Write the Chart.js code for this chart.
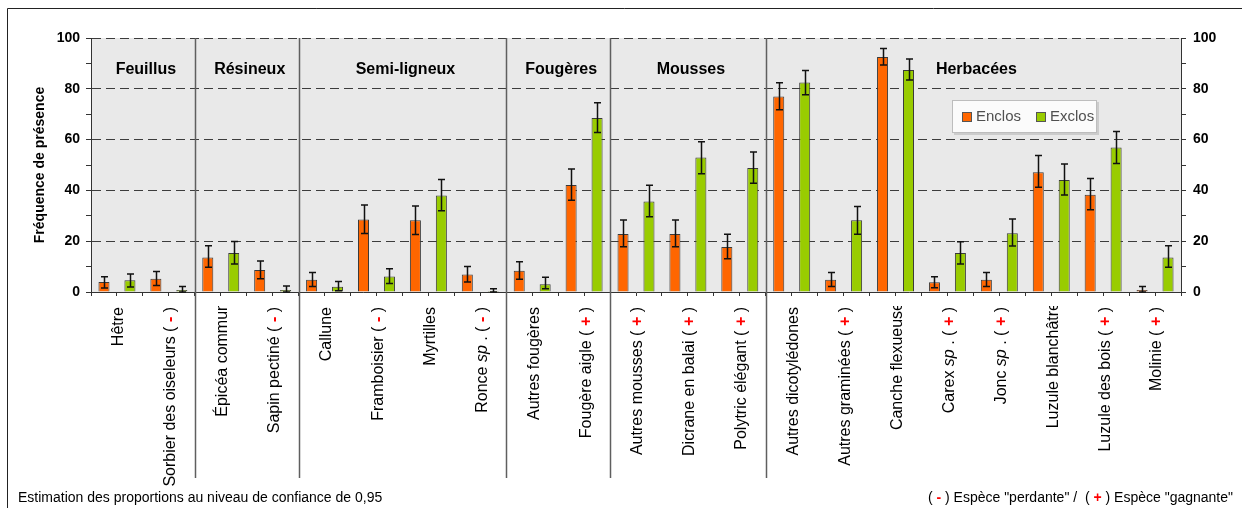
<!DOCTYPE html>
<html lang="fr">
<head>
<meta charset="utf-8">
<title>Fréquence de présence des espèces — enclos et exclos</title>
<script src="https://cdn.jsdelivr.net/npm/chart.js@4.4.1/dist/chart.umd.min.js"></script>
<style>
  html, body { margin: 0; padding: 0; background: #ffffff; }
  #wrap { width: 1242px; height: 508px; position: relative; }
  canvas { display: block; }
</style>
</head>
<body>
<div id="wrap"><canvas id="chart" width="1242" height="508"></canvas></div>
<script>
// ---- Data ---------------------------------------------------------------
// Species, in drawing order. Text between asterisks is set in italics.
const species = [
  'Hêtre', 'Sorbier des oiseleurs',
  'Épicéa commun', 'Sapin pectiné',
  'Callune', 'Framboisier', 'Myrtilles', 'Ronce *sp* .',
  'Autres fougères', 'Fougère aigle',
  'Autres mousses', 'Dicrane en balai', 'Polytric élégant',
  'Autres dicotylédones', 'Autres graminées', 'Canche flexueuse', 'Carex *sp* .',
  'Jonc *sp* .', 'Luzule blanchâtre', 'Luzule des bois', 'Molinie'
];
// "-" = espèce perdante, "+" = espèce gagnante, "" = neither
const status = [
  '', '-',
  '', '-',
  '', '-', '', '-',
  '', '+',
  '+', '+', '+',
  '', '+', '', '+',
  '+', '', '+', '+'
];
// Labels that run past the top of the label band and get cut there
const cutLabels = ['Épicéa commun', 'Canche flexueuse', 'Luzule blanchâtre'];

const groupNames = ['Feuillus', 'Résineux', 'Semi-ligneux', 'Fougères', 'Mousses', 'Herbacées'];
const groupSizes = [2, 2, 4, 2, 3, 8];

const seriesNames = ['Enclos', 'Exclos'];

// Frequency of presence (%) with 95 % confidence bounds
const enclos     = [3.9, 5.2, 13.6, 8.7, 4.8, 28.5, 28.2, 6.9, 8.4, 42.1, 22.8, 22.8, 17.7, 77.0, 4.8, 92.5, 3.8, 4.8, 47.1, 38.3, 0.8];
const enclosLow  = [1.6, 2.6, 9.7, 5.2, 2.2, 23.0, 22.6, 3.9, 5.0, 36.1, 17.8, 17.8, 13.1, 71.8, 2.2, 89.4, 1.7, 2.2, 41.2, 32.4, 0.0];
const enclosHigh = [6.0, 8.1, 18.2, 12.2, 7.7, 34.3, 33.9, 10.0, 11.9, 48.4, 28.3, 28.3, 22.7, 82.4, 7.7, 95.9, 6.0, 7.7, 53.7, 44.7, 2.2];

const exclos     = [4.6, 0.8, 15.4, 0.8, 2.1, 6.1, 38.0, 0.4, 3.1, 68.5, 35.6, 53.0, 48.8, 82.5, 28.2, 87.4, 15.4, 23.1, 44.1, 56.9, 13.6];
const exclosLow  = [2.0, 0.0, 11.0, 0.0, 0.5, 3.3, 32.0, 0.0, 1.3, 62.8, 29.6, 46.6, 42.8, 77.7, 22.7, 83.5, 11.0, 18.1, 38.2, 50.6, 9.7];
const exclosHigh = [7.1, 2.2, 19.9, 2.4, 4.1, 9.2, 44.3, 1.3, 5.8, 74.5, 42.0, 59.2, 55.1, 87.2, 33.7, 91.7, 19.8, 28.7, 50.4, 63.2, 18.2];

const yTicks = [0, 20, 40, 60, 80, 100];

const footLeft = 'Estimation des proportions au niveau de confiance de 0,95';
const footRight = [
  { text: '( ' }, { text: '-', red: true }, { text: ' ) Espèce "perdante" /  ( ' },
  { text: '+', red: true }, { text: ' ) Espèce "gagnante"' }
];

// ---- Styling --------------------------------------------------------------
const FONT = "'Liberation Sans', Arial, Helvetica, sans-serif";
const ORANGE = '#ff6600';
const GREEN = '#99cc00';
const PLOT_BG = '#e9e9e9';

function fontStr(size, seg) {
  return (seg && seg.italic ? 'italic ' : '') + (seg && (seg.bold || seg.red) ? 'bold ' : '') + size + 'px ' + FONT;
}

function speciesSegments(name, st) {
  const segs = [];
  name.split('*').forEach((part, k) => { if (part) segs.push({ text: part, italic: k % 2 === 1 }); });
  if (st) {
    segs.push({ text: ' ( ' });
    segs.push({ text: st, red: true });
    segs.push({ text: ' )' });
  }
  return segs;
}

function drawSegments(ctx, segs, x, y, size) {
  let cx = x;
  segs.forEach(s => {
    ctx.font = fontStr(size, s);
    ctx.fillStyle = s.red ? '#ff0000' : '#000000';
    ctx.fillText(s.text, cx, y);
    cx += ctx.measureText(s.text).width;
  });
}

function segmentsWidth(ctx, segs, size) {
  let w = 0;
  segs.forEach(s => { ctx.font = fontStr(size, s); w += ctx.measureText(s.text).width; });
  return w;
}

// ---- Plugins --------------------------------------------------------------
const backgroundPlugin = {
  id: 'background',
  beforeDraw(chart) {
    const { ctx, chartArea: a } = chart;
    ctx.save();
    ctx.fillStyle = '#ffffff';
    ctx.fillRect(0, 0, chart.width, chart.height);
    ctx.fillStyle = PLOT_BG;
    ctx.fillRect(a.left, a.top, a.right - a.left, a.bottom - a.top);
    ctx.restore();
  }
};

const errorBarPlugin = {
  id: 'errorBars',
  afterDatasetsDraw(chart) {
    const { ctx } = chart;
    const y = chart.scales.y;
    const bounds = [[enclosLow, enclosHigh], [exclosLow, exclosHigh]];
    ctx.save();
    ctx.strokeStyle = '#111111';
    ctx.lineWidth = 1.5;
    chart.data.datasets.forEach((ds, d) => {
      const meta = chart.getDatasetMeta(d);
      meta.data.forEach((bar, i) => {
        const x = Math.round(bar.x) + 0.5;
        const yl = y.getPixelForValue(bounds[d][0][i]);
        const yh = y.getPixelForValue(bounds[d][1][i]);
        ctx.beginPath();
        ctx.moveTo(x, yl); ctx.lineTo(x, yh);
        ctx.moveTo(x - 3.5, yh); ctx.lineTo(x + 3.5, yh);
        ctx.moveTo(x - 3.5, yl); ctx.lineTo(x + 3.5, yl);
        ctx.stroke();
      });
    });
    ctx.restore();
  }
};

const groupsPlugin = {
  id: 'groups',
  afterDraw(chart) {
    const { ctx, chartArea: a } = chart;
    const x = chart.scales.x;
    const labelTop = a.bottom + 15;
    ctx.save();

    // group separators and group titles
    let start = 0;
    groupSizes.forEach((n, g) => {
      const end = start + n;
      const x0 = x.getPixelForValue(start - 0.5);
      const x1 = x.getPixelForValue(end - 0.5);
      if (end < species.length) {
        ctx.strokeStyle = '#5f5f5f';
        ctx.lineWidth = 1.5;
        ctx.beginPath();
        ctx.moveTo(Math.round(x1) + 0.5, a.top);
        ctx.lineTo(Math.round(x1) + 0.5, 478);
        ctx.stroke();
      }
      ctx.font = 'bold 16px ' + FONT;
      ctx.fillStyle = '#000000';
      ctx.textAlign = 'center';
      ctx.textBaseline = 'middle';
      ctx.fillText(groupNames[g], (x0 + x1) / 2 + 3, 70);
      start = end;
    });

    // rotated species labels
    ctx.textAlign = 'left';
    ctx.textBaseline = 'middle';
    species.forEach((name, i) => {
      const segs = speciesSegments(name, status[i]);
      const w = segmentsWidth(ctx, segs, 16);
      const px = x.getPixelForValue(i) + 2;
      const cut = cutLabels.includes(name);
      ctx.save();
      if (cut) {
        ctx.beginPath();
        ctx.rect(px - 20, labelTop - 1, 40, 300);
        ctx.clip();
      }
      ctx.translate(px, labelTop);
      ctx.rotate(-Math.PI / 2);
      drawSegments(ctx, segs, -w + (cut ? 5 : 0), 0, 16);
      ctx.restore();
    });

    // footnotes
    ctx.textBaseline = 'middle';
    ctx.textAlign = 'left';
    ctx.font = '14px ' + FONT;
    ctx.fillStyle = '#000000';
    ctx.fillText(footLeft, 18, 498);
    const fw = segmentsWidth(ctx, footRight, 14);
    drawSegments(ctx, footRight, 1233 - fw, 498, 14);

    // outer frame
    ctx.strokeStyle = '#222222';
    ctx.lineWidth = 1;
    ctx.beginPath();
    ctx.moveTo(7.5, chart.height);
    ctx.lineTo(7.5, 8.5);
    ctx.lineTo(chart.width, 8.5);
    ctx.stroke();
    ctx.restore();
  }
};

const legendBoxPlugin = {
  id: 'legendBox',
  afterDraw(chart) {
    const { ctx } = chart;
    const bx = 952, by = 100, bw = 145, bh = 33;
    ctx.save();
    ctx.fillStyle = 'rgba(0,0,0,0.12)';
    ctx.fillRect(bx + 2, by + 2, bw, bh);
    ctx.fillStyle = '#fbfbfb';
    ctx.fillRect(bx, by, bw, bh);
    ctx.strokeStyle = '#bdbdbd';
    ctx.lineWidth = 1;
    ctx.strokeRect(bx + 0.5, by + 0.5, bw - 1, bh - 1);
    const items = [{ x: 962 }, { x: 1036 }];
    ctx.font = '15px ' + FONT;
    ctx.textBaseline = 'middle';
    ctx.textAlign = 'left';
    chart.data.datasets.forEach((ds, d) => {
      const ix = items[d].x;
      ctx.fillStyle = ds.backgroundColor;
      ctx.fillRect(ix, 112, 10, 10);
      ctx.strokeStyle = '#555555';
      ctx.strokeRect(ix + 0.5, 112.5, 9, 9);
      ctx.fillStyle = '#505050';
      ctx.fillText(ds.label, ix + 14, 117);
    });
    ctx.restore();
  }
};

// ---- Chart ----------------------------------------------------------------
Chart.defaults.font.family = FONT;
Chart.defaults.color = '#000000';

const yTickCallback = v => (yTicks.includes(v) ? String(v) : '');

new Chart(document.getElementById('chart'), {
  type: 'bar',
  data: {
    labels: species,
    datasets: [
      { label: seriesNames[0], data: enclos, backgroundColor: ORANGE, borderColor: '#3a3a3a', borderWidth: 1, xAxisID: 'x', yAxisID: 'y' },
      { label: seriesNames[1], data: exclos, backgroundColor: GREEN, borderColor: '#3a3a3a', borderWidth: 1, xAxisID: 'x', yAxisID: 'y' }
    ]
  },
  options: {
    responsive: false,
    animation: false,
    devicePixelRatio: 1,
    categoryPercentage: 1.0,
    barPercentage: 0.425,
    layout: { padding: { top: 38, left: 0, right: 0, bottom: 0 } },
    plugins: {
      legend: { display: false },
      tooltip: { enabled: false }
    },
    scales: {
      x: {
        type: 'category',
        display: false,
        offset: true
      },
      xt: {
        type: 'category',
        position: 'bottom',
        labels: Array.from({ length: species.length * 2 }, () => ''),
        offset: true,
        grid: { offset: true, drawOnChartArea: false, drawTicks: true, tickLength: 4, tickColor: '#333333', lineWidth: 1 },
        border: { display: true, color: '#333333', width: 1 },
        ticks: { display: false, autoSkip: false },
        afterFit(scale) { scale.height = 216; }
      },
      y: {
        position: 'left',
        min: 0, max: 100,
        ticks: { stepSize: 10, autoSkip: false, callback: yTickCallback, padding: 6, font: { size: 14, weight: 'bold' }, color: '#000000' },
        grid: {
          color: c => (c.tick && c.tick.value > 0 && c.tick.value % 20 === 0 ? '#3c3c3c' : 'rgba(0,0,0,0)'),
          lineWidth: 1,
          tickColor: '#333333',
          tickLength: 5
        },
        border: { display: true, color: '#333333', width: 1, dash: [9, 5] },
        title: {
          display: true,
          text: 'Fréquence de présence',
          font: { size: 14, weight: 'bold' },
          color: '#000000',
          padding: { top: 32, bottom: 0 }
        },
        afterFit(scale) { scale.width = 91; }
      },
      y2: {
        position: 'right',
        min: 0, max: 100,
        ticks: { stepSize: 10, autoSkip: false, callback: yTickCallback, padding: 7, font: { size: 14, weight: 'bold' }, color: '#000000' },
        grid: { drawOnChartArea: false, tickColor: '#333333', tickLength: 5 },
        border: { display: true, color: '#333333', width: 1 },
        afterFit(scale) { scale.width = 61; }
      }
    }
  },
  plugins: [backgroundPlugin, errorBarPlugin, groupsPlugin, legendBoxPlugin]
});
</script>
</body>
</html>
